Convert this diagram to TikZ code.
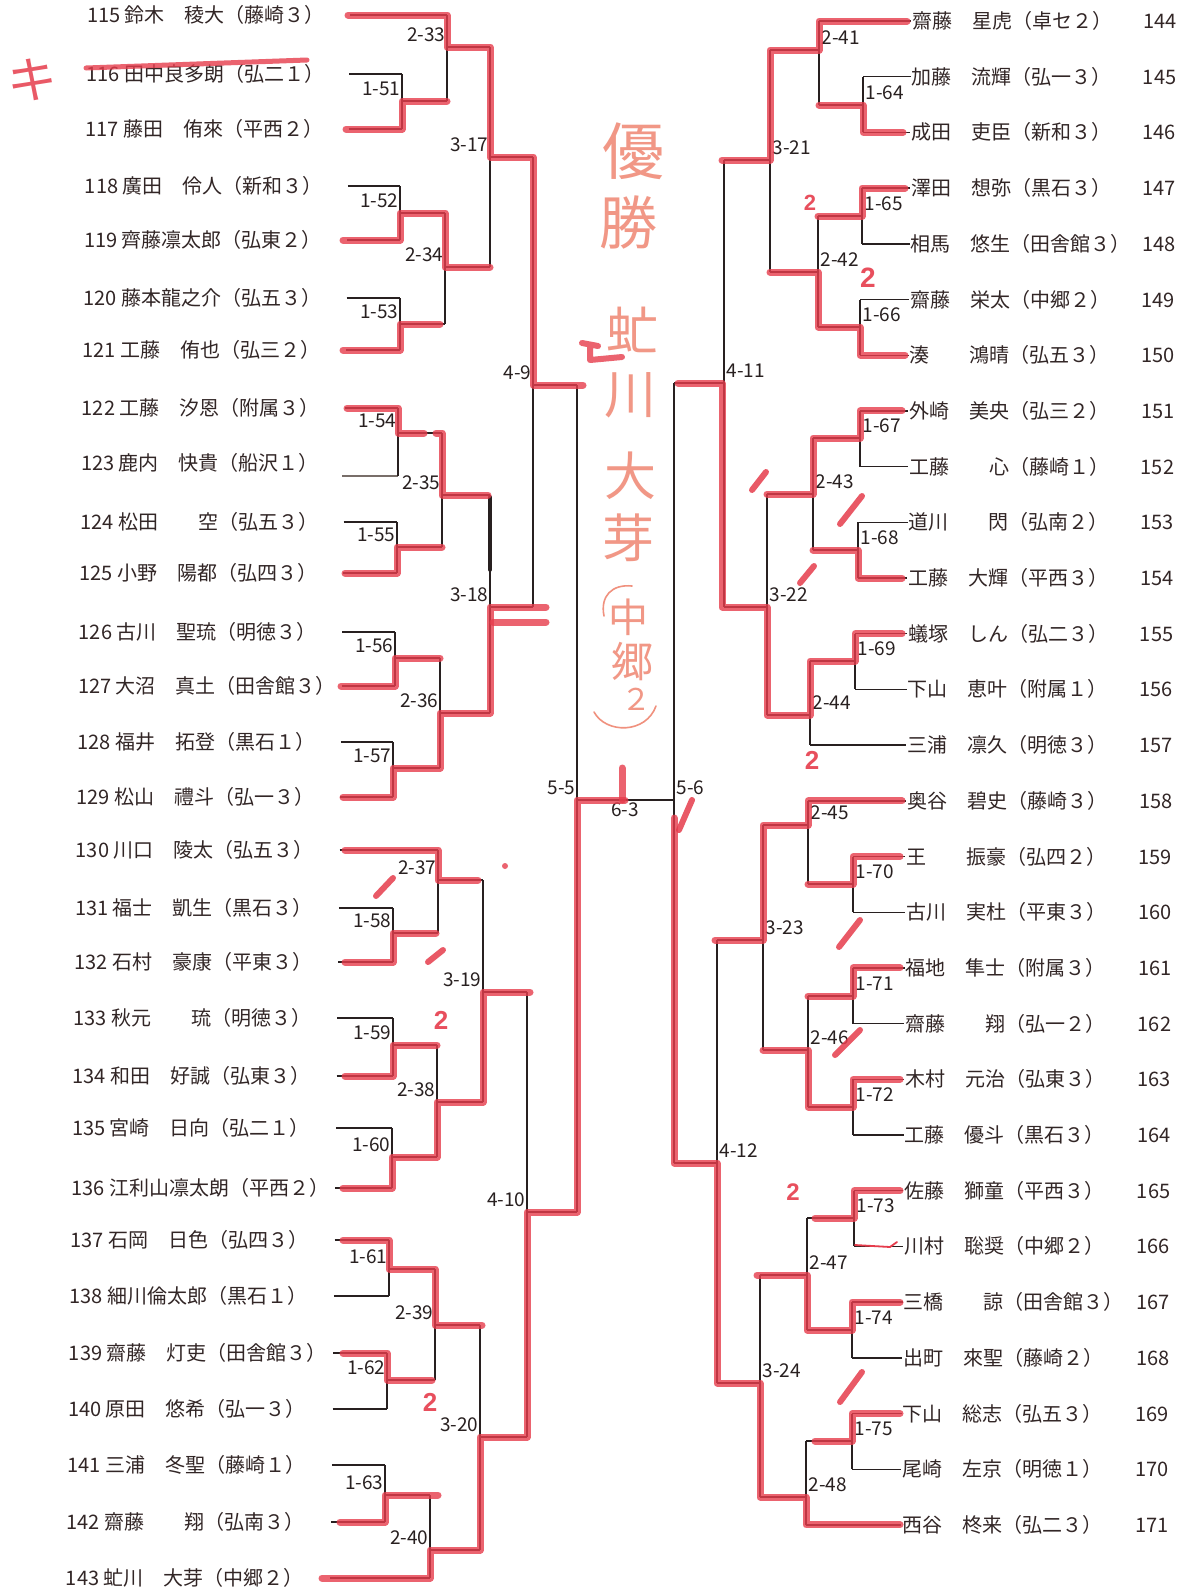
\documentclass[tikz,border=0pt]{standalone}
\usepackage{fontspec}
\newfontfamily\jp{Noto Sans CJK JP}
\newfontfamily\hand{Liberation Sans}
\definecolor{ink}{RGB}{40,32,32}
\definecolor{txt}{RGB}{50,38,38}
\definecolor{mk}{RGB}{230,60,76}
\definecolor{hwc}{RGB}{238,126,104}
\definecolor{pencil}{RGB}{120,110,105}
\tikzset{
  br/.style={draw=ink, line width=1.4pt},
  win/.style={draw=mk, line width=7pt, opacity=0.8, line cap=round, line join=round},
  tick/.style={draw=mk, line width=6pt, opacity=0.85, line cap=round},
  nm/.style={font=\jp\fontsize{20}{20}\selectfont, text=txt, inner sep=0pt, anchor=west, text height=16pt, text depth=1pt},
  lbl/.style={font=\jp\fontsize{19}{19}\selectfont, text=ink, inner sep=0pt, text height=13.5pt, text depth=0pt},
  hw/.style={font=\jp\fontsize{#1}{#1}\selectfont, text=hwc, inner sep=0pt, anchor=base, opacity=0.8},
  hwline/.style={draw=hwc, line width=1.6pt, opacity=0.85, line cap=round},
  two/.style={font=\hand\bfseries\fontsize{#1}{#1}\selectfont, text=mk, inner sep=0pt, opacity=0.9},
}
\newcommand\LP[5]{% id, k, y, xend, text
  \pgfmathsetmacro\xs{350-0.7*#2}%
  \pgfmathsetmacro\xn{87-0.76*#2}%
  \node[nm] (p#1) at (\xn,#3) {#5};
  \coordinate (p#1s) at (\xs,#3);
  \coordinate (p#1e) at (#4,#3);
  \draw[br] (p#1s) -- (p#1e);
}
\newcommand\RP[4]{% num, j, xvert, text
  \pgfmathsetmacro\yy{21+55.7*#2}%
  \pgfmathsetmacro\xn{912-0.37*#2}%
  \pgfmathsetmacro\xm{1143-0.3*#2}%
  \node[nm] (p#1) at (\xn,\yy) {#4};
  \node[nm] (q#1) at (\xm,\yy) {#1};
  \coordinate (p#1e) at (#3,\yy);
  \draw[br] (p#1e) -- ([xshift=-1pt]p#1.west);
}
\newcommand\MT[8]{% id, x, ytop, ybot, yout, xnext, label, side
  \coordinate (#1t) at (#2,#3);
  \coordinate (#1b) at (#2,#4);
  \coordinate (#1o) at (#2,#5);
  \coordinate (#1x) at (#6,#5);
  \draw[br] (#1t) -- (#1b);
  \draw[br] (#1o) -- (#1x);
  \ifx L#8
    \node[lbl,anchor=east] (#1l) at ([shift={(-1.5,-12)}]#1o) {#7};
  \else
    \node[lbl,anchor=west] (#1l) at ([shift={(2.5,-12)}]#1o) {#7};
  \fi
}
\begin{document}
\begin{tikzpicture}[x=1pt,y=-1pt]
\fill[white] (0,0) rectangle (1183,1593);
\useasboundingbox (0,0) rectangle (1183,1593);

% ---------------- left players
\LP{115}{0}{15}{447}{115 鈴木　稜大（藤崎３）}
\LP{116}{1}{74}{402}{116 田中良多朗（弘二１）}
\LP{117}{2}{129}{402}{117 藤田　侑來（平西２）}
\LP{118}{3}{186}{400}{118 廣田　伶人（新和３）}
\LP{119}{4}{240}{400}{119 齊藤凛太郎（弘東２）}
\LP{120}{5}{298}{400}{120 藤本龍之介（弘五３）}
\LP{121}{6}{350}{400}{121 工藤　侑也（弘三２）}
\LP{122}{7}{408}{398}{122 工藤　汐恩（附属３）}
\node[nm] (p123) at (80.9,463) {123 鹿内　快貴（船沢１）};
\coordinate (p123s) at (342,476);
\coordinate (p123e) at (398,476);
\draw[draw=pencil, line width=1.2pt] (p123s) -- (p123e);
\LP{124}{9}{522}{397}{124 松田　　空（弘五３）}
\LP{125}{10}{573}{397}{125 小野　陽都（弘四３）}
\LP{126}{11}{632}{395}{126 古川　聖琉（明徳３）}
\LP{127}{12}{686}{395}{127 大沼　真土（田舎館３）}
\LP{128}{13}{742}{393}{128 福井　拓登（黒石１）}
\LP{129}{14}{797}{393}{129 松山　禮斗（弘一３）}
\LP{130}{15}{850}{438}{130 川口　陵太（弘五３）}
\LP{131}{16}{908}{393}{131 福士　凱生（黒石３）}
\LP{132}{17}{962}{393}{132 石村　豪康（平東３）}
\LP{133}{18}{1018}{393}{133 秋元　　琉（明徳３）}
\LP{134}{19}{1076}{393}{134 和田　好誠（弘東３）}
\LP{135}{20}{1128}{392}{135 宮崎　日向（弘二１）}
\LP{136}{21}{1188}{392}{136 江利山凛太朗（平西２）}
\LP{137}{22}{1240}{389}{137 石岡　日色（弘四３）}
\LP{138}{23}{1296}{389}{138 細川倫太郎（黒石１）}
\LP{139}{24}{1353}{387}{139 齋藤　灯吏（田舎館３）}
\LP{140}{25}{1409}{387}{140 原田　悠希（弘一３）}
\LP{141}{26}{1465}{385}{141 三浦　冬聖（藤崎１）}
\LP{142}{27}{1522}{385}{142 齋藤　　翔（弘南３）}
\LP{143}{28}{1578}{430}{143 虻川　大芽（中郷２）}

% ---------------- left matches
\MT{a151}{402}{74}{129}{101}{447}{1-51}{L}
\MT{a233}{447}{15}{101}{47}{490}{2-33}{L}
\MT{a152}{400}{186}{240}{213}{445}{1-52}{L}
\MT{a153}{400}{298}{350}{324}{445}{1-53}{L}
\MT{a234}{445}{213}{324}{267}{490}{2-34}{L}
\MT{a317}{490}{47}{267}{157}{533}{3-17}{L}
\MT{a154}{398}{408}{476}{433}{442}{1-54}{L}
\MT{a155}{397}{522}{573}{547}{442}{1-55}{L}
\MT{a235}{442}{433}{547}{495}{490}{2-35}{L}
\MT{a156}{395}{632}{686}{658}{440}{1-56}{L}
\MT{a157}{393}{742}{797}{768}{440}{1-57}{L}
\MT{a236}{440}{658}{768}{713}{490}{2-36}{L}
\MT{a318}{490}{495}{713}{607}{533}{3-18}{L}
\MT{a49}{533}{157}{607}{385}{577}{4-9}{L}
\MT{a158}{393}{908}{962}{933}{438}{1-58}{L}
\MT{a237}{438}{850}{933}{880}{483}{2-37}{L}
\MT{a159}{393}{1018}{1076}{1045}{437}{1-59}{L}
\MT{a160}{392}{1128}{1188}{1157}{437}{1-60}{L}
\MT{a238}{437}{1045}{1157}{1102}{483}{2-38}{L}
\MT{a319}{483}{880}{1102}{992}{527}{3-19}{L}
\MT{a161}{389}{1240}{1296}{1269}{435}{1-61}{L}
\MT{a162}{387}{1353}{1409}{1380}{435}{1-62}{L}
\MT{a239}{435}{1269}{1380}{1325}{480}{2-39}{L}
\MT{a163}{385}{1465}{1522}{1495}{430}{1-63}{L}
\MT{a240}{430}{1495}{1578}{1550}{480}{2-40}{L}
\MT{a320}{480}{1325}{1550}{1437}{527}{3-20}{L}
\MT{a410}{527}{992}{1437}{1212}{577}{4-10}{L}
\MT{a55}{577}{385}{1212}{800}{577}{5-5}{L}

% ---------------- right players
\RP{144}{0}{819}{齋藤　星虎（卓セ２）}
\RP{145}{1}{863}{加藤　流輝（弘一３）}
\RP{146}{2}{863}{成田　吏臣（新和３）}
\RP{147}{3}{862}{澤田　想弥（黒石３）}
\RP{148}{4}{862}{相馬　悠生（田舎館３）}
\RP{149}{5}{860}{齋藤　栄太（中郷２）}
\RP{150}{6}{860}{湊　　鴻晴（弘五３）}
\RP{151}{7}{860}{外崎　美央（弘三２）}
\RP{152}{8}{860}{工藤　　心（藤崎１）}
\RP{153}{9}{858}{道川　　閃（弘南２）}
\RP{154}{10}{858}{工藤　大輝（平西３）}
\RP{155}{11}{855}{蟻塚　しん（弘二３）}
\RP{156}{12}{855}{下山　恵叶（附属１）}
\RP{157}{13}{810}{三浦　凛久（明徳３）}
\RP{158}{14}{808}{奥谷　碧史（藤崎３）}
\RP{159}{15}{853}{王　　振豪（弘四２）}
\RP{160}{16}{853}{古川　実杜（平東３）}
\RP{161}{17}{853}{福地　隼士（附属３）}
\RP{162}{18}{853}{齋藤　　翔（弘一２）}
\RP{163}{19}{853}{木村　元治（弘東３）}
\RP{164}{20}{853}{工藤　優斗（黒石３）}
\RP{165}{21}{854}{佐藤　獅童（平西３）}
\RP{166}{22}{854}{川村　聡奨（中郷２）}
\RP{167}{23}{852}{三橋　　諒（田舎館３）}
\RP{168}{24}{852}{出町　來聖（藤崎２）}
\RP{169}{25}{852}{下山　総志（弘五３）}
\RP{170}{26}{852}{尾崎　左京（明徳１）}
\RP{171}{27}{806}{西谷　柊来（弘二３）}

% ---------------- right matches
\MT{b164}{863}{76.7}{132.4}{105}{819}{1-64}{R}
\MT{b241}{819}{21}{105}{50}{770}{2-41}{R}
\MT{b165}{862}{188.1}{243.8}{216}{818}{1-65}{R}
\MT{b166}{860}{299.5}{355.2}{327}{818}{1-66}{R}
\MT{b242}{818}{216}{327}{272}{770}{2-42}{R}
\MT{b321}{770}{50}{272}{160}{724}{3-21}{R}
\MT{b167}{860}{410.9}{466.6}{438}{813}{1-67}{R}
\MT{b168}{858}{522.3}{578}{550}{813}{1-68}{R}
\MT{b243}{813}{438}{550}{494}{767}{2-43}{R}
\MT{b169}{855}{633.7}{689.4}{661}{810}{1-69}{R}
\MT{b244}{810}{661}{745.1}{715}{767}{2-44}{R}
\MT{b322}{767}{494}{715}{607}{724}{3-22}{R}
\MT{b411}{724}{160}{607}{383}{674}{4-11}{R}
\MT{b170}{853}{856.5}{912.2}{884}{808}{1-70}{R}
\MT{b245}{808}{800.8}{884}{825}{763}{2-45}{R}
\MT{b171}{853}{967.9}{1023.6}{996}{808}{1-71}{R}
\MT{b172}{853}{1079.3}{1135}{1107}{808}{1-72}{R}
\MT{b246}{808}{996}{1107}{1050}{763}{2-46}{R}
\MT{b323}{763}{825}{1050}{940}{717}{3-23}{R}
\MT{b173}{854}{1190.7}{1246.4}{1218}{807}{1-73}{R}
\MT{b174}{852}{1302.1}{1357.8}{1330}{807}{1-74}{R}
\MT{b247}{807}{1218}{1330}{1275}{760}{2-47}{R}
\MT{b175}{852}{1413.5}{1469.2}{1441}{806}{1-75}{R}
\MT{b248}{806}{1441}{1524.9}{1497}{760}{2-48}{R}
\MT{b324}{760}{1275}{1497}{1383}{717}{3-24}{R}
\MT{b412}{717}{940}{1383}{1163}{674}{4-12}{R}
\MT{b56}{674}{383}{1163}{800}{674}{5-6}{R}

% final
\draw[br] (a55o) -- (b56o);
\node[lbl,anchor=north] (f63) at (625,803) {6-3};

% ---------------- hand marks (dark marker, red marker)
\draw[draw=ink, line width=3.5pt, line cap=round] (490,497) -- (490,570);

\draw[win] (348,15)--(447,15)--(447,47)--(490,47)--(490,157)--(533,157)--(533,385)--(583,385);
\draw[win] (346,129)--(402,129)--(402,101)--(447,101);
\draw[win] (343,240)--(400,240)--(400,213)--(445,213)--(445,267)--(490,267);
\draw[win] (343,350)--(400,350)--(400,324)--(440,324);
\draw[win] (347,408)--(398,408)--(398,433)--(424,433);
\draw[win] (436,433)--(442,433)--(442,495)--(488,495);
\draw[win] (345,573)--(397,573)--(397,547)--(442,547);
\draw[win] (341,686)--(395,686)--(395,658)--(440,658);
\draw[win] (343,797)--(393,797)--(393,768)--(440,768)--(440,713)--(490,713)--(490,607)--(546,607);
\draw[win] (493,622)--(546,622);
\draw[win] (345,850)--(438,850)--(438,880)--(478,880);
\draw[win] (345,962)--(393,962)--(393,933)--(436,933);
\draw[win] (345,1076)--(393,1076)--(393,1045)--(437,1045);
\draw[win] (343,1188)--(392,1188)--(392,1157)--(437,1157)--(437,1102)--(483,1102)--(483,992)--(530,992);
\draw[win] (343,1240)--(389,1240)--(389,1269)--(435,1269)--(435,1325)--(482,1325);
\draw[win] (343,1353)--(387,1353)--(387,1380)--(432,1380);
\draw[win] (340,1522)--(385,1522)--(385,1495)--(438,1495);
\draw[win] (322,1578)--(430,1578)--(430,1550)--(480,1550)--(480,1437)--(527,1437)--(527,1212)--(577,1212)--(577,800)--(625,800);
\draw[win] (622,768)--(622,800);
\draw[tick] (376,896)--(393,878);
\draw[tick] (428,962)--(443,950);
\draw[win, line width=5pt] (86,68)--(307,60);
\fill[mk, opacity=0.8] (505,866) circle (3);
% hand mark beside the winner's name
\draw[win, line width=6pt] (582,343)--(598,346) (590,348)--(590,360)--(622,357);

\draw[win] (907,21)--(819,21)--(819,50)--(770,50)--(770,160)--(722,160);
\draw[win] (903,132.4)--(863,132.4)--(863,105)--(819,105);
\draw[win] (905,188.1)--(862,188.1)--(862,216)--(818,216);
\draw[win] (905,355.2)--(860,355.2)--(860,327)--(818,327)--(818,272)--(770,272);
\draw[win] (902,410.9)--(860,410.9)--(860,438)--(813,438)--(813,494)--(767,494);
\draw[win] (902,578)--(858,578)--(858,550)--(813,550);
\draw[win] (902,633.7)--(855,633.7)--(855,661)--(810,661)--(810,715)--(767,715)--(767,607)--(722,607)--(722,383)--(678,383);
\draw[win] (902,800.8)--(808,800.8)--(808,825)--(763,825)--(763,940)--(715,940);
\draw[win] (900,856.5)--(853,856.5)--(853,884)--(808,884);
\draw[win] (900,967.9)--(853,967.9)--(853,996)--(808,996);
\draw[win] (900,1079.3)--(853,1079.3)--(853,1107)--(808,1107)--(808,1050)--(763,1050);
\draw[win] (900,1190.7)--(854,1190.7)--(854,1218)--(815,1218);
\draw[win] (900,1302.1)--(852,1302.1)--(852,1330)--(807,1330)--(807,1275)--(757,1275);
\draw[win] (900,1413.5)--(852,1413.5)--(852,1441)--(815,1441);
\draw[win] (900,1524.9)--(806,1524.9)--(806,1497)--(760,1497)--(760,1383)--(717,1383)--(717,1163)--(674,1163)--(674,818);
\draw[draw=mk, line width=1.8pt, line cap=round] (855,1245)--(890,1247)--(897,1242);
\draw[tick] (752,490)--(766,472);
\draw[tick] (840,524)--(862,496);
\draw[tick] (800,583)--(814,566);
\draw[tick] (839,947)--(860,920);
\draw[tick] (835,1055)--(860,1030);
\draw[tick] (840,1402)--(862,1372);
\draw[tick] (679,830)--(692,800);

% red "2" marks and the キ
\node[two=26] (t1) at (441,1020) {2};
\node[two=26] (t2) at (430,1402) {2};
\node[two=22] (t4) at (810,203) {2};
\node[two=28] (t5) at (868,278) {2};
\node[two=26] (t6) at (812,760) {2};
\node[two=24] (t7) at (793,1192) {2};
\node[font=\jp\fontsize{50}{50}\selectfont, text=mk, inner sep=0pt, opacity=0.85] (ki) at (33,80) {キ};

% ---------------- handwritten winner
\node[hw=62] (h1) at (633,174) {優};
\node[hw=58] (h2) at (628,244) {勝};
\node[hw=52] (h3) at (632,350) {虻};
\node[hw=52] (h4) at (630,413) {川};
\node[hw=52] (h5) at (630,495) {大};
\node[hw=52] (h6) at (628,557) {芽};
\node[hw=40] (h8) at (628,632) {中};
\node[hw=42] (h9) at (632,677) {郷};
\node[hw=30] (h10) at (636,710) {２};
\draw[hwline] (604,616) .. controls (600,596) and (612,584) .. (632,586);
\draw[hwline] (594,712) .. controls (606,734) and (646,734) .. (656,706);
\end{tikzpicture}
\end{document}
